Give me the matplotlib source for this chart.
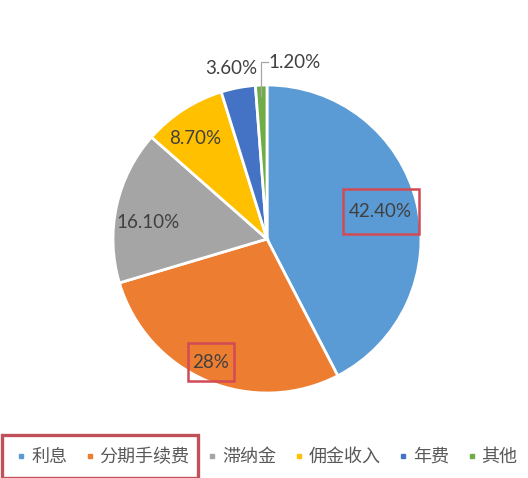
import matplotlib
matplotlib.use("Agg")
import matplotlib.pyplot as plt
import numpy as np
from matplotlib.patches import Rectangle
from matplotlib.lines import Line2D

plt.rcParams['font.family'] = ['Lato', 'Noto Sans CJK SC', 'DejaVu Sans']

categories = ['利息', '分期手续费', '滞纳金', '佣金收入', '年费', '其他']
values = [42.4, 28.0, 16.1, 8.7, 3.6, 1.2]
labels = ['42.40%', '28%', '16.10%', '8.70%', '3.60%', '1.20%']
colors = ['#5B9BD5', '#ED7D31', '#A5A5A5', '#FFC000', '#4472C4', '#70AD47']

# label placement style: (radius, angle offset in degrees)
label_style = [(0.76, 0.0), (0.88, -1.5), (0.78, 4.5), (0.80, 2.5), (1.13, 1.0), (1.16, -11.0)]
boxed = [0, 1]

W, H = 528, 478
fig = plt.figure(figsize=(W / 100, H / 100), dpi=100)
cx, cy, r = 267, 239, 154
ax = fig.add_axes([(cx - r) / W, (H - cy - r) / H, 2 * r / W, 2 * r / H])

wedges, _ = ax.pie(values, colors=colors, startangle=90, counterclock=False,
                   radius=1.0, wedgeprops=dict(edgecolor='white', linewidth=2))
ax.set_xlim(-1, 1)
ax.set_ylim(-1, 1)
ax.set_aspect('auto')
ax.axis('off')

for i, w in enumerate(wedges):
    mid = np.deg2rad((w.theta1 + w.theta2) / 2 + label_style[i][1])
    rr = label_style[i][0]
    x, y = rr * np.cos(mid), rr * np.sin(mid)
    ax.text(x, y, labels[i], ha='center', va='center', fontsize=13.5,
            color='#404040', clip_on=False)
    if i in boxed:
        bw = (76 if i == 0 else 46) / r
        bh = (45 if i == 0 else 38) / r
        ax.add_patch(Rectangle((x - bw / 2, y - bh / 2), bw, bh, fill=False,
                               edgecolor='#D24A55', linewidth=1.8, clip_on=False, zorder=5))
    if i == 5:
        t = np.deg2rad((w.theta1 + w.theta2) / 2)
        x0 = np.cos(t)
        ax.plot([x0, x0, x - 0.17], [0.93, 1.15, 1.15], color='#A6A6A6', lw=0.9,
                clip_on=False, solid_joinstyle='miter')

handles = [Line2D([], [], marker='s', linestyle='none', markersize=3.5,
                  markerfacecolor=c, markeredgecolor=c) for c in colors]
leg = fig.legend(handles, categories, loc='center', bbox_to_anchor=(0.5 + 4 / W, 1 - 457 / H),
                 ncol=6, frameon=False, handlelength=0.3, handletextpad=0.4,
                 columnspacing=1.1, prop={'family': ['Noto Sans CJK SC', 'DejaVu Sans'], 'size': 13},
                 labelcolor='#595959')

fig.patches.append(Rectangle((2 / W, 0), 196 / W, (H - 435) / H, transform=fig.transFigure,
                             fill=False, edgecolor='#C0505A', linewidth=2.4, figure=fig))

fig.savefig('out.png', dpi=100)
